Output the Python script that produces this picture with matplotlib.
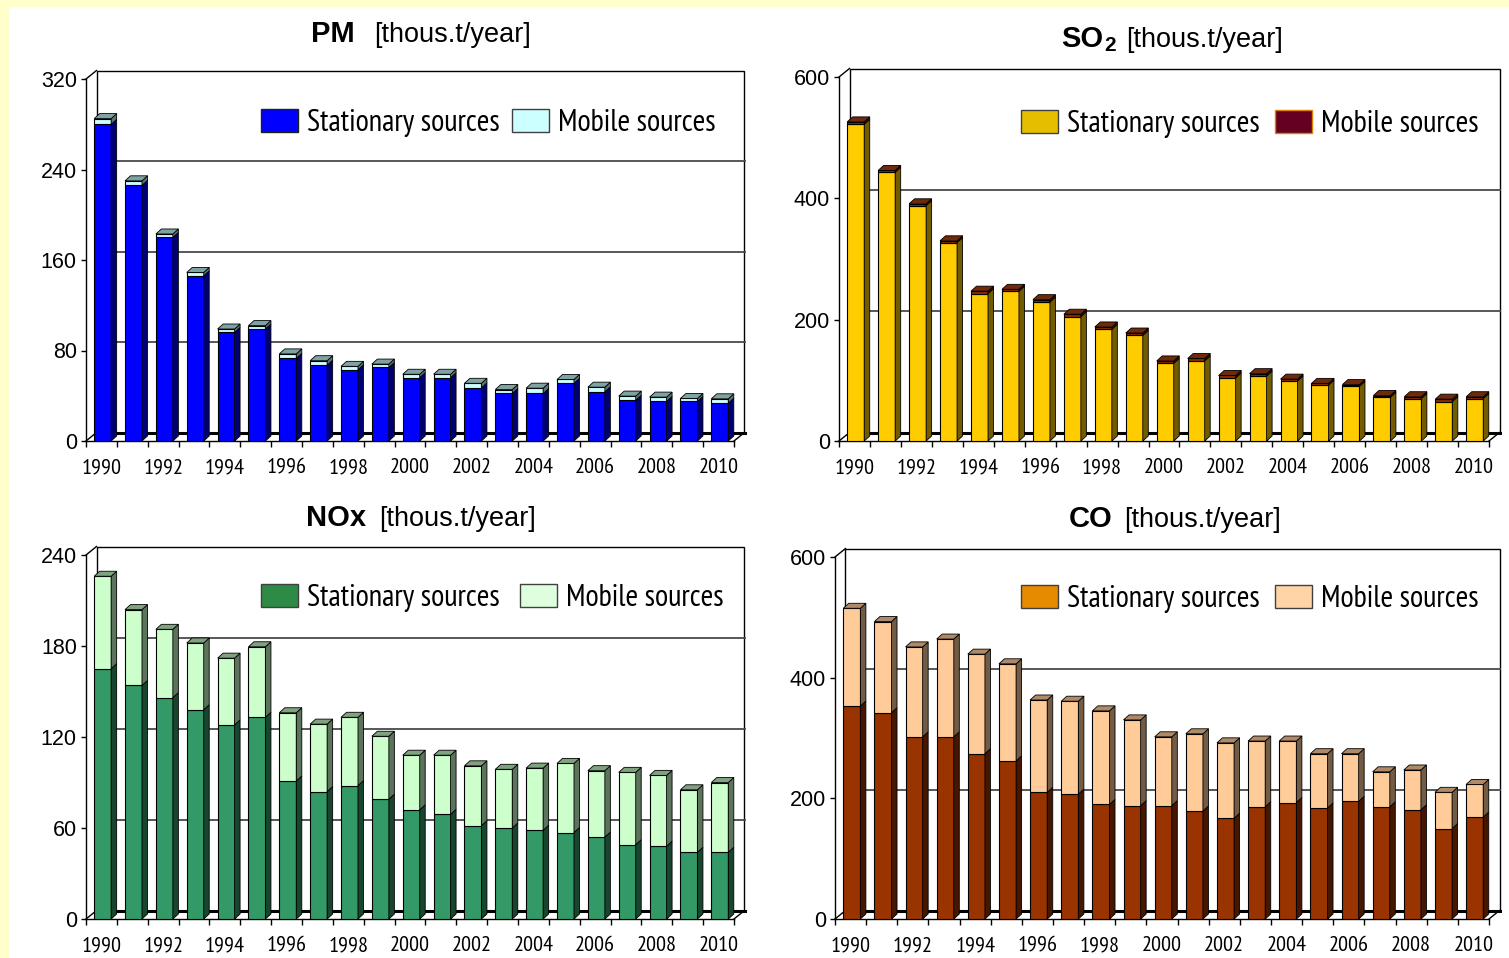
import numpy as np
import matplotlib
matplotlib.use('Agg')
import matplotlib.pyplot as plt
from matplotlib import font_manager
from matplotlib.patches import Rectangle, Polygon, Patch
from matplotlib.transforms import ScaledTranslation, IdentityTransform
from matplotlib.colors import to_rgb

#%% Data (thous. t / year)

years = list(range(1990, 2011))

pm_stat = [280, 226, 180, 146, 96, 99, 73, 67, 63, 65, 56, 56, 47, 42, 42, 51, 43.5, 36, 35, 35, 33.5]
pm_mob = [5, 4, 3, 3, 3, 3, 4, 4, 3, 3, 3, 3, 4, 3.5, 4.7, 3.4, 4.1, 3.7, 3.8, 2.6, 3.8]

so2_stat = [522, 443, 388, 327, 243, 247, 229, 205, 184, 174, 128, 132, 104, 107, 99, 92, 90, 72, 70, 65, 70]
so2_mob = [4, 3, 3, 3, 4, 3, 4, 4, 4, 4, 4, 4, 4, 4, 3, 3, 3, 3, 3, 4, 3]

nox_stat = [165, 154, 146, 138, 128, 133, 91, 84, 88, 79, 72, 69, 61.5, 60, 58.5, 57, 54, 49, 48, 44, 44]
nox_mob = [61, 50, 45, 44, 44, 46.5, 45, 44.5, 45, 41.5, 36, 39, 39.5, 38.7, 41, 45.6, 43.8, 47.7, 46.7, 41.2, 46]

co_stat = [353, 342, 302, 302, 274, 262, 210, 207, 190, 188, 188, 179, 167, 186, 193, 184, 195, 186, 181, 150, 169]
co_mob = [162, 151, 149, 162, 165, 161, 153, 154, 155, 142, 114, 128, 125, 109, 102, 90, 79, 58, 66, 60, 54]

#%% Setup

W, H = 1509, 958
DX, DY = 10.5, 8.5     # depth of back wall (px)
BDX, BDY = 5.5, 5.0    # depth of bars (px)

names = {f.name for f in font_manager.fontManager.ttflist}
NARROW = 'Liberation Sans'
for cand in ['Liberation Sans Narrow', 'Arial Narrow', 'PT Sans Narrow', 'Roboto Condensed',
             'Archivo Narrow', 'Fira Sans Condensed', 'Open Sans Condensed']:
    if cand in names:
        NARROW = cand
        break
plt.rcParams['font.family'] = ['Liberation Sans', 'DejaVu Sans']

fig = plt.figure(figsize=(W / 100, H / 100), dpi=100, facecolor='#FFFFCC')
fig.add_artist(Rectangle((9 / W, 0), 1, 1 - 7 / H, transform=fig.transFigure,
                         facecolor='white', edgecolor='none', zorder=-10))


def shade(c, f):
    return tuple(np.clip(np.array(to_rgb(c)) * f, 0, 1))


def draw_panel(box, stat, mob, ymax, step, c_stat, c_mob, c_cap):
    x0, x1, ytop, y0 = box
    n = len(stat)
    ax = fig.add_axes([x0 / W, 1 - y0 / H, (x1 - x0) / W, (y0 - ytop) / H])
    ax.set_xlim(-0.5, n - 0.5)
    ax.set_ylim(0, ymax)
    ax.patch.set_visible(False)
    ax.spines['top'].set_visible(False)
    ax.spines['right'].set_visible(False)
    for s in ['left', 'bottom']:
        ax.spines[s].set_linewidth(1.0)
        ax.spines[s].set_color('black')

    yt = np.arange(0, ymax + 1, step)
    ax.set_yticks(yt)
    ax.set_yticklabels([str(int(v)) for v in yt], fontsize=15.5)
    ax.tick_params(axis='y', direction='out', length=3.6, width=1, pad=3)
    ax.set_xticks(np.arange(-0.5, n, 1.0))
    ax.set_xticklabels([])
    ax.tick_params(axis='x', which='major', direction='out', length=4.5, width=1)
    ax.set_xticks(np.arange(0, n, 2), minor=True)
    ax.set_xticklabels([str(years[i]) for i in range(0, n, 2)], minor=True,
                       fontsize=16, family=NARROW)
    ax.tick_params(axis='x', which='minor', length=0, pad=12.5)

    # back wall, gridlines and floor, shifted for the 3-D look
    off = ax.transData + ScaledTranslation(DX / 100, DY / 100, fig.dpi_scale_trans)
    ax.add_patch(Rectangle((-0.5, 0), n, ymax, transform=off, fill=False,
                           edgecolor='black', lw=1.0, clip_on=False, zorder=1))
    for v in yt[1:-1]:
        ax.plot([-0.5, n - 0.5], [v, v], transform=off, color='#4a4a4a', lw=1.3,
                clip_on=False, zorder=1)
    ax.plot([-0.5, n - 0.5], [0, 0], transform=off, color='black', lw=2.2,
            clip_on=False, zorder=1)

    td = ax.transData
    d = np.array([DX, DY])
    for px, py in [(-0.5, 0), (n - 0.5, 0), (-0.5, ymax)]:
        p = td.transform((px, py))
        ax.add_line(plt.Line2D([p[0], p[0] + d[0]], [p[1], p[1] + d[1]],
                               transform=IdentityTransform(), color='black', lw=1.0,
                               clip_on=False, zorder=1))

    x = np.arange(n)
    bw = 0.55
    tops = np.array(stat) + np.array(mob)
    ax.bar(x + 0.04, stat, bw, color=c_stat, edgecolor='black', lw=0.8, zorder=3)
    ax.bar(x + 0.04, mob, bw, bottom=stat, color=c_mob, edgecolor='black', lw=0.8, zorder=3)

    # side and top faces of the bars
    bd = np.array([BDX, BDY])
    for i in range(n):
        xl, xr = x[i] + 0.04 - bw / 2, x[i] + 0.04 + bw / 2
        for yb, ytp, c in [(0, stat[i], c_stat), (stat[i], tops[i], c_mob)]:
            pb = td.transform((xr, yb))
            pt = td.transform((xr, ytp))
            ax.add_patch(Polygon([pb, pb + bd, pt + bd, pt], closed=True,
                                 transform=IdentityTransform(), facecolor=shade(c, 0.45),
                                 edgecolor='black', lw=0.6, clip_on=False, zorder=3))
        pl = td.transform((xl, tops[i]))
        pr = td.transform((xr, tops[i]))
        ax.add_patch(Polygon([pl, pr, pr + bd, pl + bd], closed=True,
                             transform=IdentityTransform(), facecolor=c_cap,
                             edgecolor='black', lw=0.6, clip_on=False, zorder=3))
    return ax


def legend_entry(xpx, ypx, label, fc, ec):
    fig.legend(handles=[Patch(facecolor=fc, edgecolor=ec, lw=1.0)], labels=[label],
               loc='center left', bbox_to_anchor=(xpx / W, 1 - ypx / H), frameon=False,
               prop={'family': NARROW, 'size': 22}, handlelength=1.2, handleheight=0.76,
               handletextpad=0.32, borderpad=0, borderaxespad=0)


#%% Panels

draw_panel((86, 734, 79, 441), pm_stat, pm_mob, 320, 80, '#0000FF', '#CCFFFF', '#7FA3A3')
draw_panel((839, 1489, 77, 441), so2_stat, so2_mob, 600, 200, '#FFCC00', '#8A2A00', '#6E2A0A')
draw_panel((86, 734, 555, 919), nox_stat, nox_mob, 240, 60, '#339966', '#CCFFCC', '#7FA37F')
draw_panel((835, 1489, 557, 919), co_stat, co_mob, 600, 200, '#993300', '#FFCC99', '#B08A66')

legend_entry(261, 123, 'Stationary sources', '#0000FF', '#202020')
legend_entry(512, 123, 'Mobile sources', '#CCFFFF', '#404040')
legend_entry(1021, 124, 'Stationary sources', '#E6BE00', '#404040')
legend_entry(1275, 124, 'Mobile sources', '#660022', '#E08000')
legend_entry(261, 598, 'Stationary sources', '#2E8B45', '#404040')
legend_entry(520, 598, 'Mobile sources', '#DDFFDD', '#404040')
legend_entry(1021, 599, 'Stationary sources', '#E68A00', '#404040')
legend_entry(1275, 599, 'Mobile sources', '#FFD5A8', '#404040')

#%% Titles


def title(xb, xr, ybase, bold, sub=None, xs=None):
    fig.text(xb / W, 1 - ybase / H, bold, fontsize=21, fontweight='bold', va='baseline')
    if sub is not None:
        fig.text(xs / W, 1 - (ybase + 4) / H, sub, fontsize=15, fontweight='bold', va='baseline')
    fig.text(xr / W, 1 - ybase / H, '[thous.t/year]', fontsize=19.5, va='baseline')


title(311, 374, 42, 'PM')
title(1061, 1126, 47, 'SO', '2', 1104)
title(306, 379, 526, 'NOx')
title(1069, 1124, 527, 'CO')

fig.savefig('out.png', dpi=100, facecolor=fig.get_facecolor())
